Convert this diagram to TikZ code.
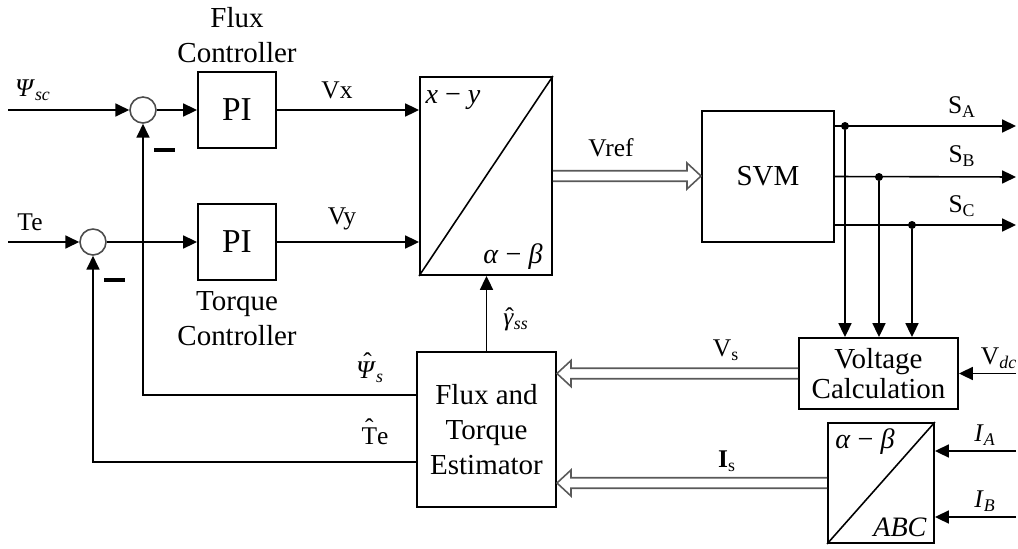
\documentclass[tikz,border=0pt]{standalone}
\usepackage{fontspec}
\setmainfont{Liberation Serif}
\usetikzlibrary{arrows.meta,calc}
\newcommand\hatover[3]{\ooalign{#3\cr\hidewidth\kern#1\raisebox{#2}{ˆ}\hidewidth\cr}}
\newcommand\hollowarrow[3]{\draw[hollow] let \p1=(#2), \p2=(#3) in
  (\x1,\y1+3pt) -- ({\x2-#1*8pt},\y1+3pt) -- ({\x2-#1*8pt},\y1+7.4pt) -- (\x2,\y1)
  -- ({\x2-#1*8pt},\y1-7.4pt) -- ({\x2-#1*8pt},\y1-3pt) -- (\x1,\y1-3pt);}
\begin{document}
\begin{tikzpicture}[x=0.02cm,y=-0.02cm,
  blk/.style={draw, line width=1.1pt, inner sep=0pt, align=center, font=\fontsize{16.5}{19.8}\selectfont},
  txt/.style={inner sep=0pt, align=center, font=\fontsize{16.5}{19.8}\selectfont},
  sumc/.style={draw=black!70, circle, line width=0.9pt, minimum size=0.52cm, inner sep=0pt},
  arr/.style={line width=0.9pt, -{Triangle[length=7.9pt,width=7.4pt]}},
  wire/.style={line width=0.9pt},
  lbl/.style={font=\fontsize{14.5}{17}\selectfont, inner sep=0pt},
  hollow/.style={line width=0.9pt, draw=black!65, line join=miter},
  dot/.style={circle, fill, inner sep=0pt, minimum size=0.16cm},
  minus/.style={inner sep=0pt},
]
\useasboundingbox (0,0) rectangle (1018,548);

% blocks
\node[blk, minimum width=1.56cm, minimum height=1.52cm, font=\fontsize{19}{22}\selectfont] (pi1) at (237,110) {PI};
\node[blk, minimum width=1.56cm, minimum height=1.52cm, font=\fontsize{19}{22}\selectfont] (pi2) at (237,242) {PI};
\node[blk, minimum width=2.64cm, minimum height=3.96cm] (xy) at (486,176) {};
\node[blk, minimum width=2.64cm, minimum height=2.62cm] (svm) at (768,176.5) {SVM};
\node[blk, minimum width=2.78cm, minimum height=3.1cm] (est) at (486.5,429.5) {Flux and\\Torque\\Estimator};
\node[blk, minimum width=3.18cm, minimum height=1.42cm, font=\fontsize{16.5}{17.5}\selectfont] (vc) at (878.5,373.5) {Voltage\\Calculation};
\node[blk, minimum width=2.12cm, minimum height=2.4cm] (ab) at (881,483) {};
\node[sumc] (c1) at (143,110) {};
\node[sumc] (c2) at (93,242) {};

% diagonals
\draw[wire] (xy.south west) -- (xy.north east);
\draw[wire] (ab.south west) -- (ab.north east);

% texts in boxes
\node[txt, font=\fontsize{16}{18}\selectfont] (txy) at (453,100) {\textit{x} − \textit{y}};
\node[txt, font=\fontsize{16}{18}\selectfont] (tab1) at (513,257) {\textit{α} − \textit{β}};
\node[txt, font=\fontsize{16}{18}\selectfont] (tab2) at (865,442) {\textit{α} − \textit{β}};
\node[txt, font=\fontsize{16}{18}\selectfont] (tabc) at (900,527) {\textit{ABC}};

% controller captions
\node[txt] (lfc) at (237,35) {Flux\\Controller};
\node[txt] (ltc) at (237,319) {Torque\\Controller};

% inputs
\coordinate (psiin) at (8,110);
\coordinate (tein) at (8,242);
\draw[arr] (psiin) -- (c1.west);
\draw[arr] (tein) -- (c2.west);
\draw[arr] (c1.east) -- (pi1.west);
\draw[arr] (c2.east) -- (pi2.west);
\draw[arr] (pi1.east) -- (pi1.east -| xy.west);
\draw[arr] (pi2.east) -- (pi2.east -| xy.west);

% feedback
\draw[arr] ([yshift=0.69cm]est.west) -| (c1.south);
\draw[arr] ([yshift=-0.65cm]est.west) -| (c2.south);
\draw[arr] (est.north) -- (est.north |- xy.south);

% minus signs
\node[minus] (m1) at (164.5,150) {\rule{0.42cm}{0.07cm}};
\node[minus] (m2) at (114.5,280) {\rule{0.42cm}{0.07cm}};

% SVM outputs
\coordinate (sao) at (1016,126);
\coordinate (sbo) at (1016,177);
\coordinate (sco) at (1016,225);
\draw[arr] ([yshift=1.01cm]svm.east) -- (sao);
\draw[arr] (svm.east) -- (sbo);
\draw[arr] ([yshift=-0.97cm]svm.east) -- (sco);
\node[dot] (da) at (845,126) {};
\node[dot] (db) at (879,177) {};
\node[dot] (dc) at (912,225) {};
\draw[arr] (da) -- (da |- vc.north);
\draw[arr] (db) -- (db |- vc.north);
\draw[arr] (dc) -- (dc |- vc.north);

% right inputs
\coordinate (vdcin) at (1016,373.5);
\coordinate (iain) at (1016,451);
\coordinate (ibin) at (1016,517);
\draw[arr] (vdcin) -- (vc.east);
\draw[arr] (iain) -- (iain -| ab.east);
\draw[arr] (ibin) -- (ibin -| ab.east);

% hollow arrows
\hollowarrow{1}{xy.east}{svm.west}
\hollowarrow{-1}{vc.west}{est.east |- vc.west}
\hollowarrow{-1}{ab.west}{est.east |- ab.west}

% labels
\node[lbl] (lpsi) at (33,90) {\textit{Ψ}\textsubscript{\textit{sc}}};
\node[lbl] (lte) at (30,222) {Te};
\node[lbl] (lvx) at (337,90) {Vx};
\node[lbl] (lvy) at (342,219) {Vy};
\node[lbl] (lvref) at (611,148) {Vref};
\node[lbl] (lsa) at (962,107) {S\textsubscript{A}};
\node[lbl] (lsb) at (962,156) {S\textsubscript{B}};
\node[lbl] (lsc) at (962,206) {S\textsubscript{C}};
\node[lbl] (lvs) at (726,350) {V\textsubscript{s}};
\node[lbl] (lis) at (727,461) {\textbf{I}\textsubscript{s}};
\node[lbl] (lvdc) at (999,358) {V\textsubscript{\textit{dc}}};
\node[lbl] (lia) at (985,435) {\textit{I}\textsubscript{\textit{A}}};
\node[lbl] (lib) at (985,501) {\textit{I}\textsubscript{\textit{B}}};
\node[lbl] (lgam) at (516,322) {\hatover{0.08em}{0em}{\textit{γ}}\textsubscript{\textit{ss}}};
\node[lbl] (lpsih) at (370,372) {\hatover{0.12em}{0.3em}{\textit{Ψ}}\textsubscript{\textit{s}}};
\node[lbl] (lteh) at (375,436) {\hatover{0em}{0.3em}{T}e};
\end{tikzpicture}
\end{document}
